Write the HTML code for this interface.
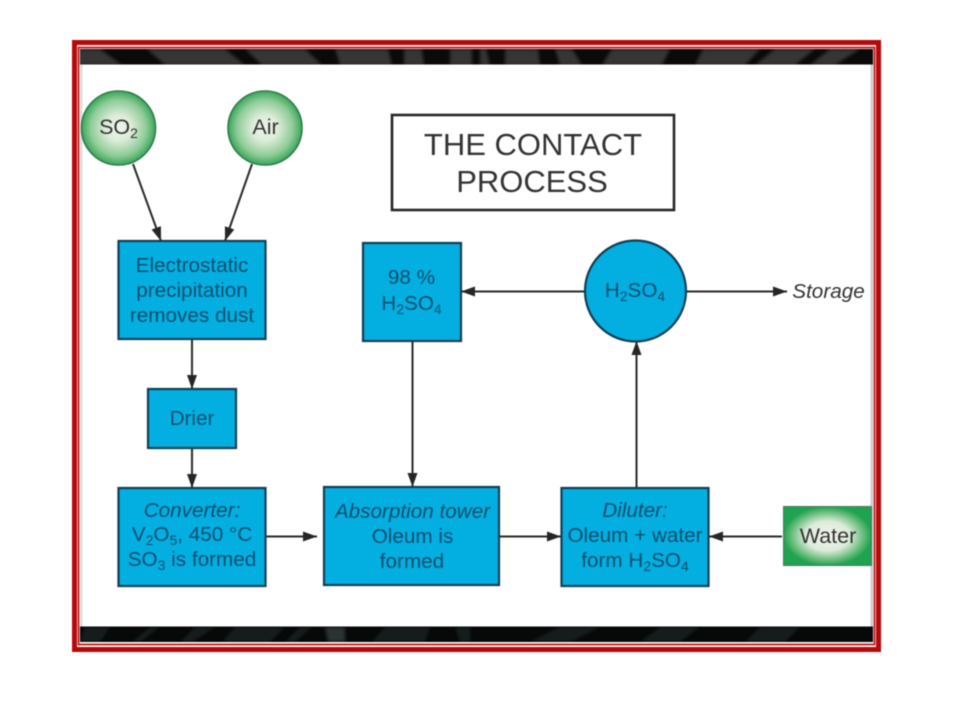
<!DOCTYPE html>
<html><head><meta charset="utf-8"><style>
html,body{margin:0;padding:0;background:#fff;width:960px;height:720px;overflow:hidden}
svg{display:block;filter:blur(.45px)}
text{font-family:"Liberation Sans",sans-serif;text-anchor:middle;fill:#0e5070;font-size:20.700px}
.d{fill:#333}
.s{font-size:14px}
</style></head><body>
<svg width="960" height="720" viewBox="0 0 960 720" xmlns="http://www.w3.org/2000/svg">
<defs>
<radialGradient id="g"><stop offset="0" stop-color="#eef4ec"/><stop offset=".35" stop-color="#dcecd8"/><stop offset=".75" stop-color="#8fcc98"/><stop offset="1" stop-color="#3aa65a"/></radialGradient>
<radialGradient id="w" cx=".5" cy=".5" r=".5"><stop offset="0" stop-color="#f2f5f0"/><stop offset=".5" stop-color="#dcebd9"/><stop offset=".85" stop-color="#5cb873"/><stop offset="1" stop-color="#1fa351"/></radialGradient>
<marker id="a" markerWidth="16" markerHeight="10" refX="14" refY="5" orient="auto" markerUnits="userSpaceOnUse"><path d="M0 0L14 5L0 10Z" fill="#262626"/></marker>
<filter id="bl" x="0" y="0" width="1" height="1"><feGaussianBlur stdDeviation="1.500"/></filter>
<clipPath id="tb"><rect x="80" y="49" width="793" height="15.500"/></clipPath>
<clipPath id="bb"><rect x="80" y="626.500" width="793" height="15.500"/></clipPath>
</defs>

<!-- frame -->
<rect x="74.500" y="42.500" width="804" height="607" fill="#fff" stroke="#b80808" stroke-width="5"/>
<rect x="78.500" y="47.500" width="796" height="597" fill="#fff" stroke="#b80808" stroke-width="1.600"/>

<g clip-path="url(#tb)">
<rect x="80" y="49" width="793" height="15.500" fill="#0a0a0a"/>
<g filter="url(#bl)">
<g fill="#343434">
<polygon points="78,49 100,49 122,65 78,65"/>
<polygon points="147,49 225,49 245,65 165,65"/>
<polygon points="245,49 305,49 322,65 262,65"/>
<polygon points="335,49 388,49 392,65 340,65"/>
<polygon points="404,49 422,49 424,65 404,65"/>
<polygon points="450,49 472,49 472,65 450,65"/>
<polygon points="480,49 486,49 490,65 480,65"/>
<polygon points="505,49 538,49 540,65 505,65"/>
<polygon points="555,49 572,49 582,65 560,65"/>
<polygon points="612,49 670,49 662,65 602,65"/>
<polygon points="703,49 760,49 745,65 695,65"/>
<polygon points="775,49 815,49 795,65 755,65"/>
<polygon points="830,49 860,49 835,65 810,65"/>
</g>
</g>
</g>
<g clip-path="url(#bb)">
<rect x="80" y="626.500" width="793" height="15.500" fill="#070909"/>
<g filter="url(#bl)" fill="#181c1c">
<polygon points="85,627 110,627 100,642 80,642"/>
<polygon points="150,627 160,627 140,642 132,642"/>
<polygon points="195,627 215,627 192,642 180,642"/>
<polygon points="235,627 285,627 270,642 222,642"/>
<polygon points="300,627 312,627 295,642 285,642"/>
<polygon points="325,627 345,627 345,642 328,642" fill="#2c3030"/>
<polygon points="385,627 430,627 425,642 372,642"/>
<polygon points="455,627 470,627 470,642 460,642"/>
<polygon points="560,627 600,627 570,642 530,642"/>
<polygon points="660,627 700,627 680,642 640,642"/>
<polygon points="760,627 800,627 785,642 745,642"/>
</g>
</g>
<rect x="80" y="64.500" width="2.500" height="562" fill="#ddd"/>
<rect x="870.500" y="64.500" width="2.500" height="562" fill="#ccc"/>

<!-- connectors -->
<g stroke="#2a2a2a" stroke-width="2" fill="none" marker-end="url(#a)">
<path d="M133 164L161 241"/>
<path d="M252 164L225 241"/>
<path d="M192 339V389"/>
<path d="M192 448V488"/>
<path d="M266 536.500H317"/>
<path d="M499 536.500H561"/>
<path d="M782 536.500H709"/>
<path d="M412.500 341V487"/>
<path d="M636.500 488V341"/>
<path d="M584 291.500H461"/>
<path d="M687 291.500H787"/>
</g>

<!-- green nodes -->
<circle cx="118.500" cy="128" r="37" fill="url(#g)" stroke="#2f7d4c" stroke-width="1.600"/>
<circle cx="265" cy="128" r="37" fill="url(#g)" stroke="#2f7d4c" stroke-width="1.600"/>
<rect x="783.500" y="506.500" width="88" height="59" fill="url(#w)" stroke="#4d7a5c"/>
<text class="d" x="118.500" y="134" style="font-size:21.500px">SO<tspan class="s" dy="4">2</tspan></text>
<text class="d" x="265.500" y="134" style="font-size:21.500px">Air</text>
<text class="d" x="828" y="543" style="font-size:21.500px">Water</text>

<!-- title -->
<rect x="392" y="115" width="282" height="95" fill="#fff" stroke="#262626" stroke-width="2.600"/>
<text class="d" x="533" y="155" style="font-size:31px">THE CONTACT</text>
<text class="d" x="532" y="192" style="font-size:31px">PROCESS</text>

<!-- blue boxes -->
<g fill="#03aee0" stroke="#0f3f55" stroke-width="2.200">
<rect x="118.500" y="241" width="147" height="98"/>
<rect x="148" y="389" width="88" height="59"/>
<rect x="118.500" y="488" width="147" height="98"/>
<rect x="324" y="487" width="175" height="98"/>
<rect x="561.500" y="488" width="147" height="98"/>
<rect x="363" y="243" width="98" height="98"/>
<circle cx="635.500" cy="291" r="50.500"/>
</g>

<text x="192" y="272">Electrostatic</text>
<text x="192" y="297">precipitation</text>
<text x="192" y="322">removes dust</text>
<text x="192" y="425">Drier</text>
<text x="192" y="517" font-style="italic">Converter:</text>
<text x="192" y="541">V<tspan class="s" dy="4">2</tspan><tspan dy="-4">O</tspan><tspan class="s" dy="4">5</tspan><tspan dy="-4">, 450 °C</tspan></text>
<text x="192" y="566">SO<tspan class="s" dy="4">3</tspan><tspan dy="-4"> is formed</tspan></text>
<text x="412.500" y="518" font-style="italic">Absorption tower</text>
<text x="412.500" y="543">Oleum is</text>
<text x="412" y="568">formed</text>
<text x="635" y="517" font-style="italic">Diluter:</text>
<text x="635" y="542">Oleum + water</text>
<text x="635" y="567">form H<tspan class="s" dy="4">2</tspan><tspan dy="-4">SO</tspan><tspan class="s" dy="4">4</tspan></text>
<text x="411.500" y="284">98 %</text>
<text x="411.500" y="310">H<tspan class="s" dy="4">2</tspan><tspan dy="-4">SO</tspan><tspan class="s" dy="4">4</tspan></text>
<text x="635" y="297">H<tspan class="s" dy="4">2</tspan><tspan dy="-4">SO</tspan><tspan class="s" dy="4">4</tspan></text>
<text class="d" x="828.500" y="298" font-style="italic">Storage</text>
</svg>
</body></html>
